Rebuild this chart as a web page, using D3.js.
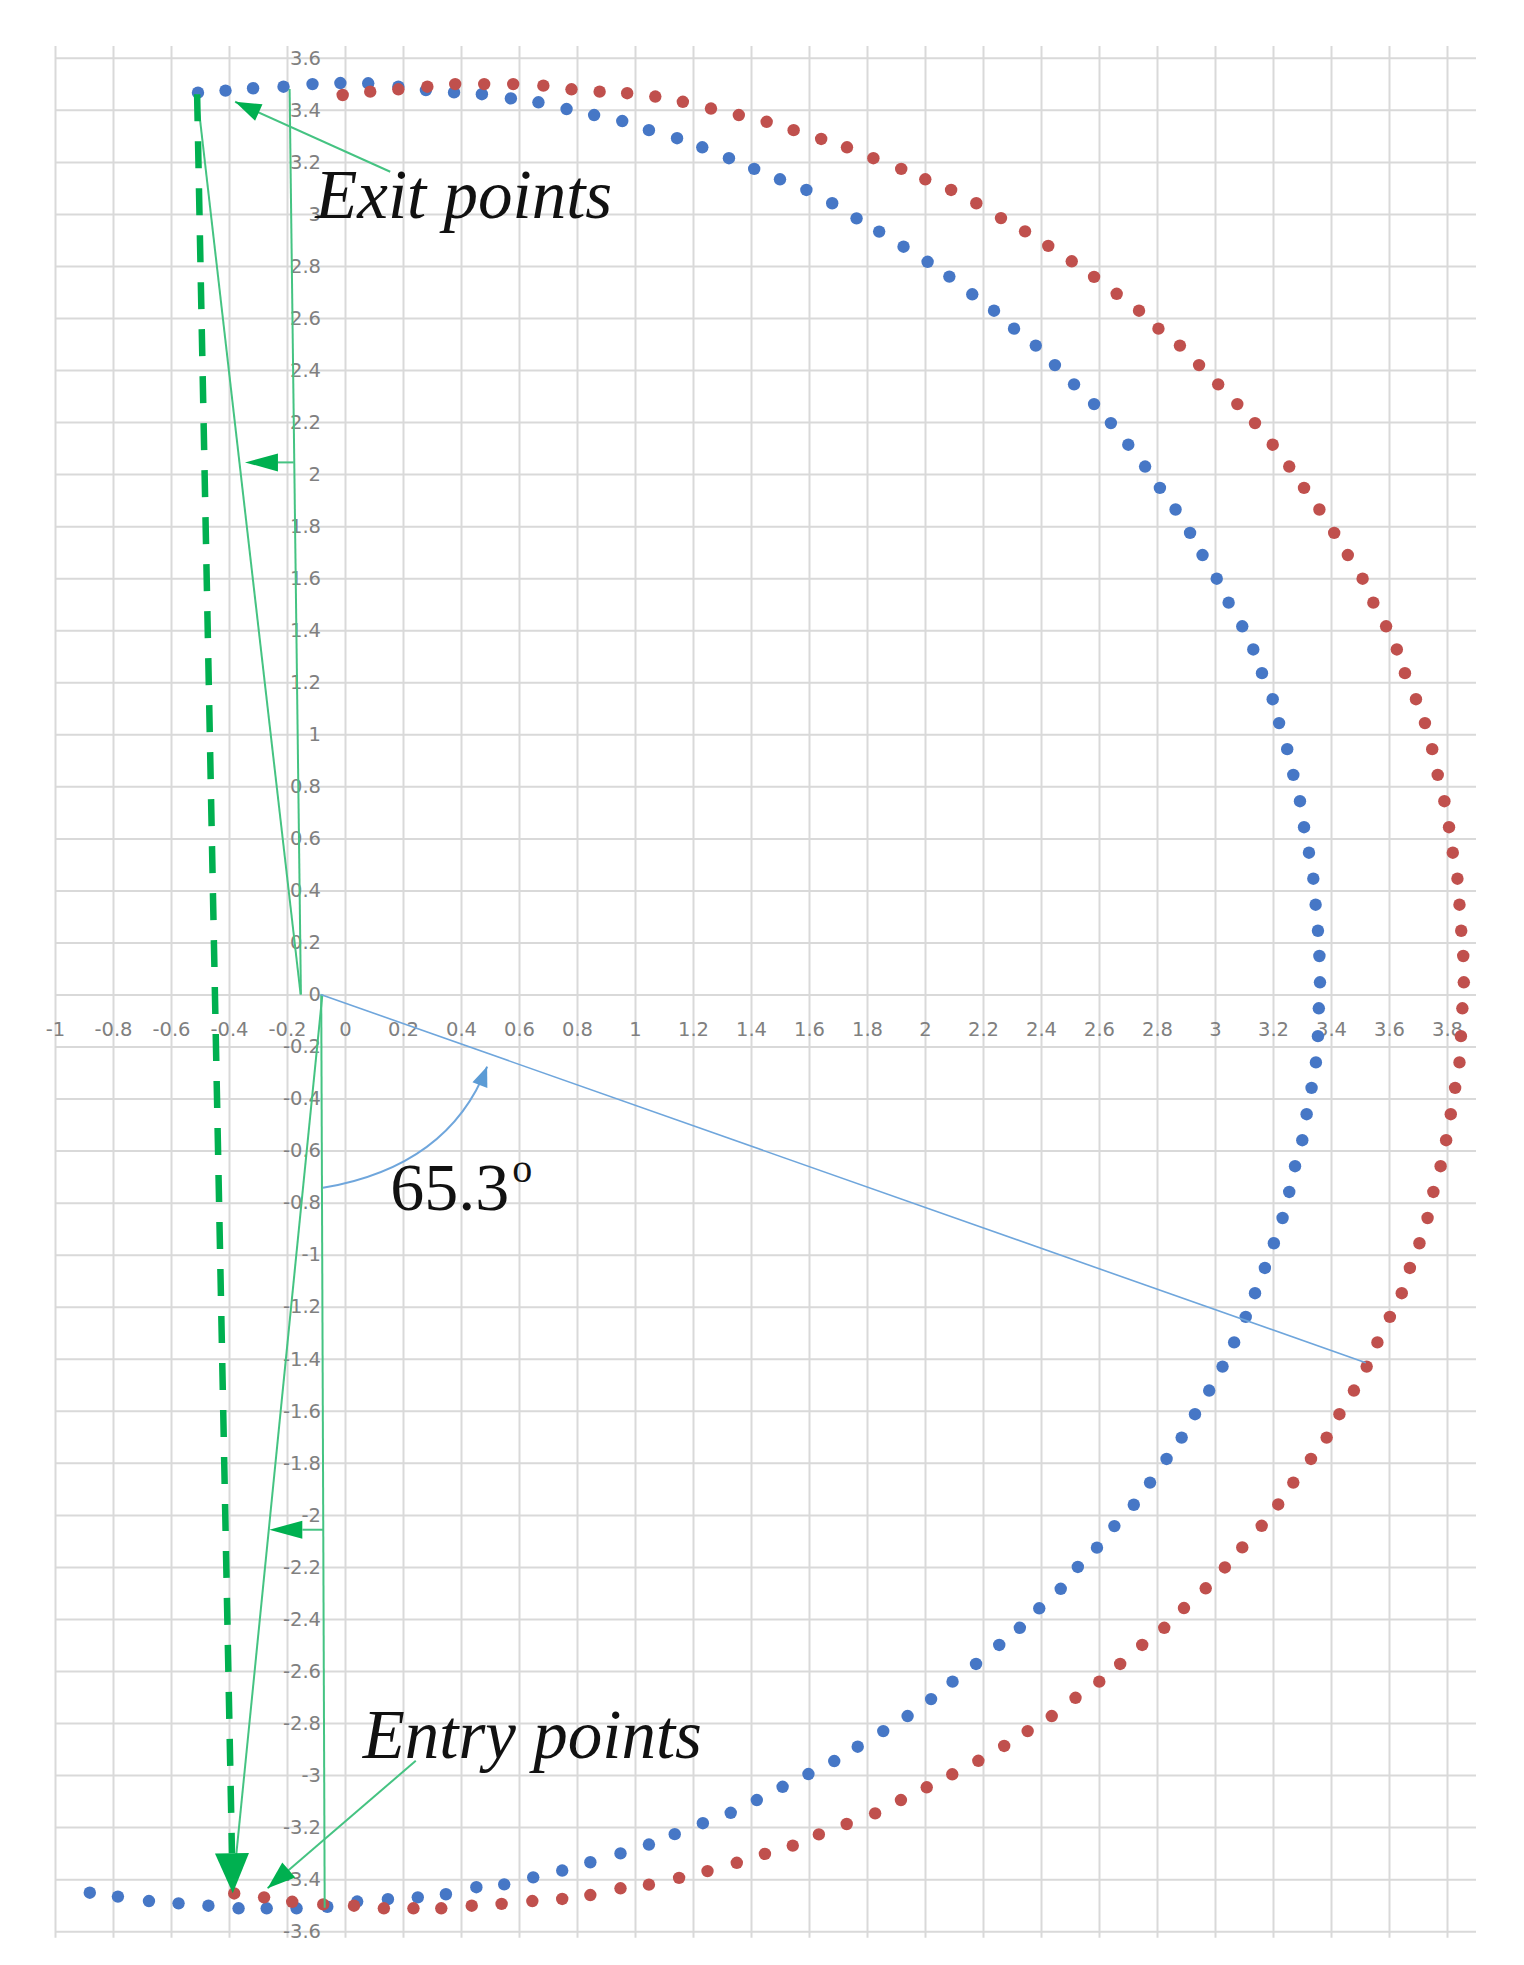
<!DOCTYPE html>
<html>
<head>
<meta charset="utf-8">
<script src="https://cdnjs.cloudflare.com/ajax/libs/d3/7.8.5/d3.min.js"></script>
<style>
body { margin:0; background:#fff; }
</style>
</head>
<body>
<div id="chart"></div>
<script>
var width = 1524
var height = 1965

// tick values (labels are printed as plain numbers)
var xTicks = [-1,-0.8,-0.6,-0.4,-0.2,0,0.2,0.4,0.6,0.8,1,1.2,1.4,1.6,1.8,2,2.2,2.4,2.6,2.8,3,3.2,3.4,3.6,3.8]
var yTicks = [3.6,3.4,3.2,3,2.8,2.6,2.4,2.2,2,1.8,1.6,1.4,1.2,1,0.8,0.6,0.4,0.2,0,-0.2,-0.4,-0.6,-0.8,-1,-1.2,-1.4,-1.6,-1.8,-2,-2.2,-2.4,-2.6,-2.8,-3,-3.2,-3.4,-3.6]

// blue series
var blueX = [-0.507,-0.412,-0.317,-0.212,-0.112,-0.016,0.080,0.184,0.279,0.376,
  0.472,0.572,0.667,0.764,0.859,0.956,1.048,1.145,1.232,1.324,
  1.411,1.500,1.591,1.680,1.764,1.842,1.926,2.009,2.084,2.163,
  2.238,2.307,2.382,2.448,2.514,2.583,2.641,2.701,2.759,2.810,
  2.864,2.914,2.957,3.006,3.047,3.094,3.132,3.162,3.199,3.221,
  3.249,3.270,3.293,3.307,3.324,3.339,3.347,3.355,3.360,3.362,
  3.358,3.355,3.348,3.333,3.316,3.301,3.276,3.256,3.233,3.203,
  3.172,3.138,3.106,3.066,3.026,2.980,2.931,2.885,2.833,2.776,
  2.720,2.653,2.593,2.527,2.468,2.394,2.327,2.256,2.176,2.095,
  2.021,1.940,1.856,1.768,1.687,1.598,1.509,1.420,1.330,1.234,
  1.137,1.048,0.950,0.846,0.749,0.649,0.549,0.453,0.348,0.251,
  0.148,0.042,-0.061,-0.167,-0.270,-0.367,-0.471,-0.574,-0.676,-0.783,-0.880]
var blueY = [3.466,3.474,3.483,3.489,3.499,3.503,3.502,3.489,3.476,3.467,
  3.460,3.444,3.429,3.403,3.380,3.357,3.322,3.291,3.256,3.214,
  3.173,3.133,3.092,3.041,2.983,2.932,2.874,2.816,2.759,2.691,
  2.628,2.559,2.494,2.419,2.345,2.269,2.196,2.113,2.029,1.947,
  1.864,1.774,1.689,1.598,1.506,1.415,1.326,1.235,1.135,1.043,
  0.943,0.844,0.743,0.643,0.545,0.445,0.345,0.245,0.148,0.047,
  -0.053,-0.160,-0.261,-0.359,-0.460,-0.560,-0.660,-0.759,-0.859,-0.956,
  -1.051,-1.148,-1.239,-1.337,-1.430,-1.522,-1.613,-1.703,-1.785,-1.876,
  -1.961,-2.043,-2.126,-2.200,-2.284,-2.359,-2.434,-2.500,-2.573,-2.641,
  -2.708,-2.773,-2.831,-2.891,-2.946,-2.996,-3.045,-3.096,-3.145,-3.185,
  -3.227,-3.267,-3.301,-3.335,-3.367,-3.393,-3.420,-3.431,-3.458,-3.470,
  -3.477,-3.486,-3.506,-3.512,-3.512,-3.512,-3.502,-3.493,-3.484,-3.467,-3.452]

// red series
var redX = [-0.008,0.087,0.184,0.284,0.380,0.480,0.580,0.684,0.781,0.878,
  0.973,1.070,1.165,1.262,1.358,1.454,1.547,1.642,1.731,1.822,
  1.918,2.001,2.090,2.177,2.262,2.345,2.425,2.506,2.583,2.661,
  2.738,2.805,2.879,2.945,3.011,3.077,3.138,3.199,3.256,3.307,
  3.360,3.411,3.458,3.509,3.546,3.590,3.627,3.655,3.693,3.724,
  3.749,3.768,3.791,3.807,3.820,3.836,3.843,3.849,3.856,3.858,
  3.853,3.848,3.843,3.828,3.813,3.797,3.778,3.753,3.733,3.705,
  3.672,3.644,3.603,3.560,3.523,3.479,3.429,3.385,3.331,3.270,
  3.218,3.161,3.094,3.034,2.968,2.893,2.825,2.749,2.673,2.601,
  2.519,2.437,2.354,2.273,2.184,2.094,2.006,1.917,1.828,1.730,
  1.634,1.544,1.448,1.351,1.250,1.152,1.048,0.950,0.846,0.749,
  0.646,0.540,0.437,0.332,0.236,0.134,0.031,-0.075,-0.182,-0.279,-0.382]
var redY = [3.457,3.470,3.479,3.489,3.499,3.499,3.499,3.493,3.479,3.470,
  3.464,3.451,3.431,3.405,3.380,3.354,3.322,3.288,3.256,3.214,
  3.173,3.133,3.092,3.041,2.984,2.933,2.877,2.818,2.758,2.693,
  2.628,2.559,2.494,2.419,2.345,2.269,2.196,2.113,2.029,1.947,
  1.864,1.774,1.689,1.598,1.506,1.415,1.326,1.235,1.135,1.043,
  0.943,0.844,0.743,0.643,0.545,0.445,0.345,0.245,0.148,0.047,
  -0.053,-0.160,-0.261,-0.359,-0.460,-0.560,-0.660,-0.759,-0.859,-0.956,
  -1.051,-1.148,-1.239,-1.337,-1.430,-1.522,-1.613,-1.703,-1.785,-1.876,
  -1.960,-2.042,-2.125,-2.202,-2.282,-2.358,-2.434,-2.500,-2.573,-2.641,
  -2.703,-2.773,-2.831,-2.888,-2.945,-2.997,-3.047,-3.096,-3.147,-3.188,
  -3.228,-3.271,-3.303,-3.337,-3.369,-3.395,-3.421,-3.435,-3.461,-3.476,
  -3.484,-3.495,-3.502,-3.512,-3.512,-3.512,-3.502,-3.497,-3.487,-3.470,-3.455]

// annotation geometry, in data units
var dashedArrow = [[-0.51,3.46],[-0.387,-3.454]]
var thinLines = [
  [[-0.51,3.46],[-0.153,0]],
  [[-0.191,3.48],[-0.152,0]],
  [[-0.082,0],[-0.07,-3.51]],
  [[-0.078,0],[-0.387,-3.44]]
]
var sideArrows = [
  [[-0.177,2.045],[-0.345,2.045]],
  [[-0.075,-2.057],[-0.261,-2.057]]
]
var exitPointer = [[0.156,3.162],[-0.379,3.431]]
var entryPointer = [[0.244,-2.945],[-0.267,-3.435]]
var angleLine = [[-0.084,0],[3.52,-1.415]]
var angleArc = [[-0.076,-0.743],[0.357,-0.661],[0.49,-0.277]]
var labels = [
  {text:"Exit points", pos:[-0.103,2.983]},
  {text:"Entry points", pos:[0.061,-2.935]}
]
var angleLabel = {text:"65.3", sup:"o", pos:[0.156,-0.828]}

var x = d3.scaleLinear().domain([-1,3.8]).range([55,1447])
var y = d3.scaleLinear().domain([-3.6,3.6]).range([1931.2,57.8])

var svg = d3.select("#chart").append("svg")
    .attr("width", width)
    .attr("height", height)
    .style("background", "#fff")

var gridTop = y(3.645), gridBottom = y(-3.625)
var gridRight = x(3.9)

// grid
svg.append("g")
    .attr("transform", "translate(0," + gridBottom + ")")
    .call(d3.axisBottom(x).tickValues(xTicks).tickSize(-(gridBottom - gridTop)).tickFormat(""))
    .call(function(g){ g.select(".domain").remove(); })
    .attr("color", "#d9d9d9")
    .selectAll("line").attr("stroke-width", 2)
svg.append("g")
    .attr("transform", "translate(" + x(-1) + ",0)")
    .call(d3.axisLeft(y).tickValues(yTicks).tickSize(-(gridRight - x(-1))).tickFormat(""))
    .call(function(g){ g.select(".domain").remove(); })
    .attr("color", "#d9d9d9")
    .selectAll("line").attr("stroke-width", 2)

// tick labels sit on the zero lines
var fmt = function(d){ return String(d); }
var xl = svg.append("g")
    .attr("transform", "translate(0," + y(0) + ")")
    .call(d3.axisBottom(x).tickValues(xTicks).tickSize(0).tickPadding(28).tickFormat(fmt))
xl.select(".domain").remove()
var yl = svg.append("g")
    .attr("transform", "translate(" + x(0) + ",0)")
    .call(d3.axisLeft(y).tickValues(yTicks).tickSize(0).tickPadding(24).tickFormat(fmt))
yl.select(".domain").remove()
svg.selectAll(".tick text")
    .attr("font-family", "DejaVu Sans")
    .attr("font-size", 19.5)
    .attr("fill", "#808080")

// dots
function dots(xs, ys, color) {
  svg.append("g").selectAll("circle")
    .data(d3.zip(xs, ys))
    .enter().append("circle")
      .attr("cx", function(d){ return x(d[0]); })
      .attr("cy", function(d){ return y(d[1]); })
      .attr("r", 6.2)
      .attr("fill", color)
}
dots(blueX, blueY, "#4677c6")
dots(redX, redY, "#c0504d")

// helpers for arrows
function head(p0, p1, len, half, color) {
  var x0 = x(p0[0]), y0 = y(p0[1]), x1 = x(p1[0]), y1 = y(p1[1])
  var a = Math.atan2(y1 - y0, x1 - x0)
  var bx = x1 - len * Math.cos(a), by = y1 - len * Math.sin(a)
  svg.append("path")
    .attr("d", d3.line()([[x1, y1], [bx + half * Math.sin(a), by - half * Math.cos(a)], [bx - half * Math.sin(a), by + half * Math.cos(a)]]) + "Z")
    .attr("fill", color)
  return [bx, by]
}
function seg(p0, p1, color, w) {
  return svg.append("line")
    .attr("x1", x(p0[0])).attr("y1", y(p0[1]))
    .attr("x2", x(p1[0])).attr("y2", y(p1[1]))
    .attr("stroke", color).attr("stroke-width", w)
}

var thinGreen = "#45c382"
var green = "#00b050"

thinLines.forEach(function(l){ seg(l[0], l[1], thinGreen, 2); })

sideArrows.forEach(function(l){
  var b = head(l[0], l[1], 33, 9, green)
  svg.append("line")
    .attr("x1", x(l[0][0])).attr("y1", y(l[0][1]))
    .attr("x2", b[0]).attr("y2", b[1])
    .attr("stroke", thinGreen).attr("stroke-width", 2)
})

var db = head(dashedArrow[0], dashedArrow[1], 40, 17, green)
svg.append("line")
    .attr("x1", x(dashedArrow[0][0])).attr("y1", y(dashedArrow[0][1]))
    .attr("x2", db[0]).attr("y2", db[1])
    .attr("stroke", green).attr("stroke-width", 6.5)
    .attr("stroke-dasharray", "27,20")

seg(exitPointer[0], exitPointer[1], thinGreen, 2)
head(exitPointer[0], exitPointer[1], 26, 9, green)
seg(entryPointer[0], entryPointer[1], thinGreen, 2)
head(entryPointer[0], entryPointer[1], 28, 10, green)

// angle line and curved arrow
seg(angleLine[0], angleLine[1], "#6fa6dc", 1.6)
var arc = d3.path()
arc.moveTo(x(angleArc[0][0]), y(angleArc[0][1]))
arc.quadraticCurveTo(x(angleArc[1][0]), y(angleArc[1][1]), x(angleArc[2][0]), y(angleArc[2][1]))
svg.append("path")
    .attr("d", arc.toString())
    .attr("fill", "none")
    .attr("stroke", "#6fa6dc")
    .attr("stroke-width", 2)
head(angleArc[1], angleArc[2], 20, 8, "#5b9bd5")

// text
svg.selectAll("text.note")
  .data(labels)
  .enter().append("text")
    .attr("class", "note")
    .attr("x", function(d){ return x(d.pos[0]); })
    .attr("y", function(d){ return y(d.pos[1]); })
    .attr("font-family", "Liberation Serif")
    .attr("font-style", "italic")
    .attr("font-size", 69)
    .attr("fill", "#111")
    .text(function(d){ return d.text; })

var ang = svg.append("text")
    .attr("x", x(angleLabel.pos[0]))
    .attr("y", y(angleLabel.pos[1]))
    .attr("font-family", "Liberation Serif")
    .attr("font-size", 68)
    .attr("fill", "#111")
    .text(angleLabel.text)
ang.append("tspan")
    .attr("dy", -28)
    .attr("dx", 3)
    .attr("font-size", 40)
    .text(angleLabel.sup)
</script>
</body>
</html>
